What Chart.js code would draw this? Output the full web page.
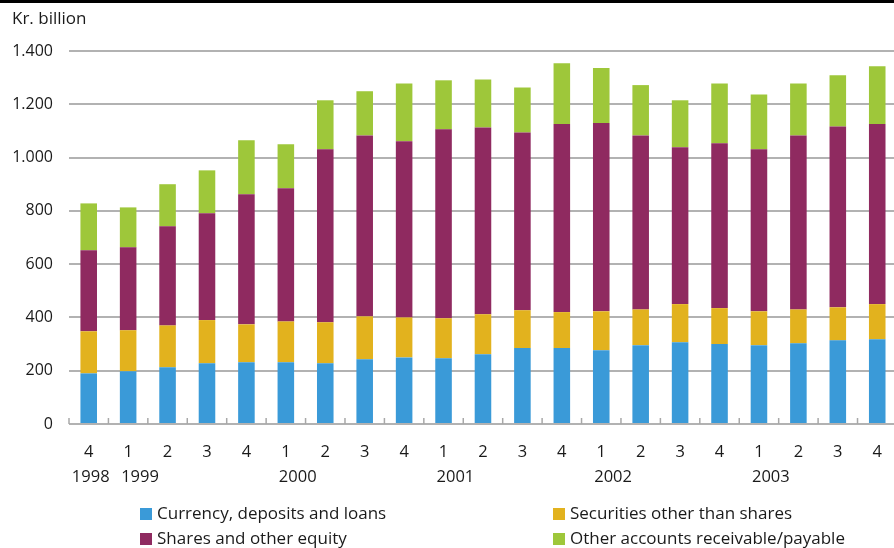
<!DOCTYPE html>
<html>
<head>
<meta charset="utf-8">
<script src="https://cdn.jsdelivr.net/npm/chart.js@4/dist/chart.umd.min.js"></script>
<style>
  html, body { margin: 0; padding: 0; background: #fff; overflow: hidden; width: 894px; height: 548px; }
  #topRule { position: absolute; left: 0; top: 0; width: 894px; height: 3px; background: #000; }
  #unit { position: absolute; left: 12px; top: 6px; font: 17px "Open Sans", sans-serif; color: #1a1a1a; }
  #wrap { position: absolute; left: 0; top: 0; width: 900px; height: 548px; }
  .leg { position: absolute; font: 17px "Open Sans", sans-serif; color: #1a1a1a; white-space: nowrap; line-height: 20px; }
  .leg i { display: inline-block; width: 12px; height: 12px; margin-right: 5px; vertical-align: -1px; }
</style>
</head>
<body>
<div id="wrap"><canvas id="c" width="900" height="548"></canvas></div>
<div id="topRule"></div>
<div id="unit">Kr. billion</div>
<div id="legend"></div>
<script>
// Quarterly financial assets, Kr. billion
const quarters = ["4","1","2","3","4","1","2","3","4","1","2","3","4","1","2","3","4","1","2","3","4"];
const years    = ["1998","1999","","","","2000","","","","2001","","","","2002","","","","2003","","",""];

const currency   = [190,198,213,228,232,232,228,243,250,247,262,285,285,277,296,307,300,296,303,314,318];
const securities = [158,154,157,162,142,153,154,161,150,150,150,142,135,146,134,143,135,127,127,124,132];
const shares     = [304,311,372,401,488,500,649,679,661,709,701,667,706,707,653,589,619,608,653,679,676];
const other      = [176,150,158,161,203,165,184,166,217,184,180,169,228,206,189,176,224,206,195,192,217];

const seriesNames  = ["Currency, deposits and loans","Securities other than shares","Shares and other equity","Other accounts receivable/payable"];
const seriesColors = ["#3a9ad8","#e2b21e","#8f2a60","#9ec73a"];

const yTicks = [0,200,400,600,800,1000,1200,1400];

const FONT = '"Open Sans", sans-serif';

// Small marks on the baseline between categories, and year captions under the quarters
const axisExtras = {
  id: 'axisExtras',
  afterDraw(chart) {
    const ctx = chart.ctx;
    const x = chart.scales.x;
    const bottom = chart.chartArea.bottom;
    const n = quarters.length;
    const step = x.getPixelForValue(1) - x.getPixelForValue(0);
    ctx.save();
    ctx.strokeStyle = '#a8a8a8';
    ctx.lineWidth = 1.5;
    for (let i = 0; i <= n; i++) {
      const px = x.getPixelForValue(0) + (i - 0.5) * step;
      ctx.beginPath();
      ctx.moveTo(px, bottom - 6);
      ctx.lineTo(px, bottom);
      ctx.stroke();
    }
    ctx.fillStyle = '#1a1a1a';
    ctx.font = '16.5px ' + FONT;
    ctx.textBaseline = 'middle';
    years.forEach((y, i) => {
      if (!y) return;
      const cx = x.getPixelForValue(i);
      if (i === 0) { ctx.textAlign = 'center'; ctx.fillText(y, cx + 2, 477); }
      else { ctx.textAlign = 'left'; ctx.fillText(y, cx - 7, 477); }
    });
    ctx.restore();
  }
};

new Chart(document.getElementById('c'), {
  type: 'bar',
  data: {
    labels: quarters,
    datasets: [currency, securities, shares, other].map((d, k) => ({
      label: seriesNames[k],
      data: d,
      backgroundColor: seriesColors[k],
      borderWidth: 0,
      barPercentage: 0.42,
      categoryPercentage: 1.0
    }))
  },
  options: {
    responsive: false,
    animation: false,
    layout: { padding: { top: 51, right: 2, left: 0, bottom: 0 } },
    plugins: { legend: { display: false }, tooltip: { enabled: false }, title: { display: false } },
    scales: {
      x: {
        stacked: true,
        grid: { display: false, drawTicks: false },
        border: { display: false },
        ticks: { color: '#1a1a1a', font: { family: FONT, size: 16.5 }, padding: 18, maxRotation: 0, autoSkip: false },
        afterFit(s) { s.height = 124; }
      },
      y: {
        stacked: true,
        min: 0, max: 1400,
        afterBuildTicks(s) { s.ticks = yTicks.map(v => ({ value: v })); },
        grid: { color: '#b2b2b2', lineWidth: 2, drawTicks: false },
        border: { display: false },
        ticks: {
          color: '#1a1a1a', font: { family: FONT, size: 16 }, padding: 16,
          callback: v => String(v).replace(/\B(?=(\d{3})+(?!\d))/g, '.')
        },
        afterFit(s) { s.width = 69; }
      }
    }
  },
  plugins: [axisExtras]
});

// Legend in two columns
const legendPos = [[140, 503], [553, 503], [140, 528], [553, 528]];
const legendEl = document.getElementById('legend');
seriesNames.forEach((name, k) => {
  const d = document.createElement('div');
  d.className = 'leg';
  d.style.left = legendPos[k][0] + 'px';
  d.style.top = legendPos[k][1] + 'px';
  d.innerHTML = '<i style="background:' + seriesColors[k] + '"></i>' + name;
  legendEl.appendChild(d);
});
</script>
</body>
</html>
